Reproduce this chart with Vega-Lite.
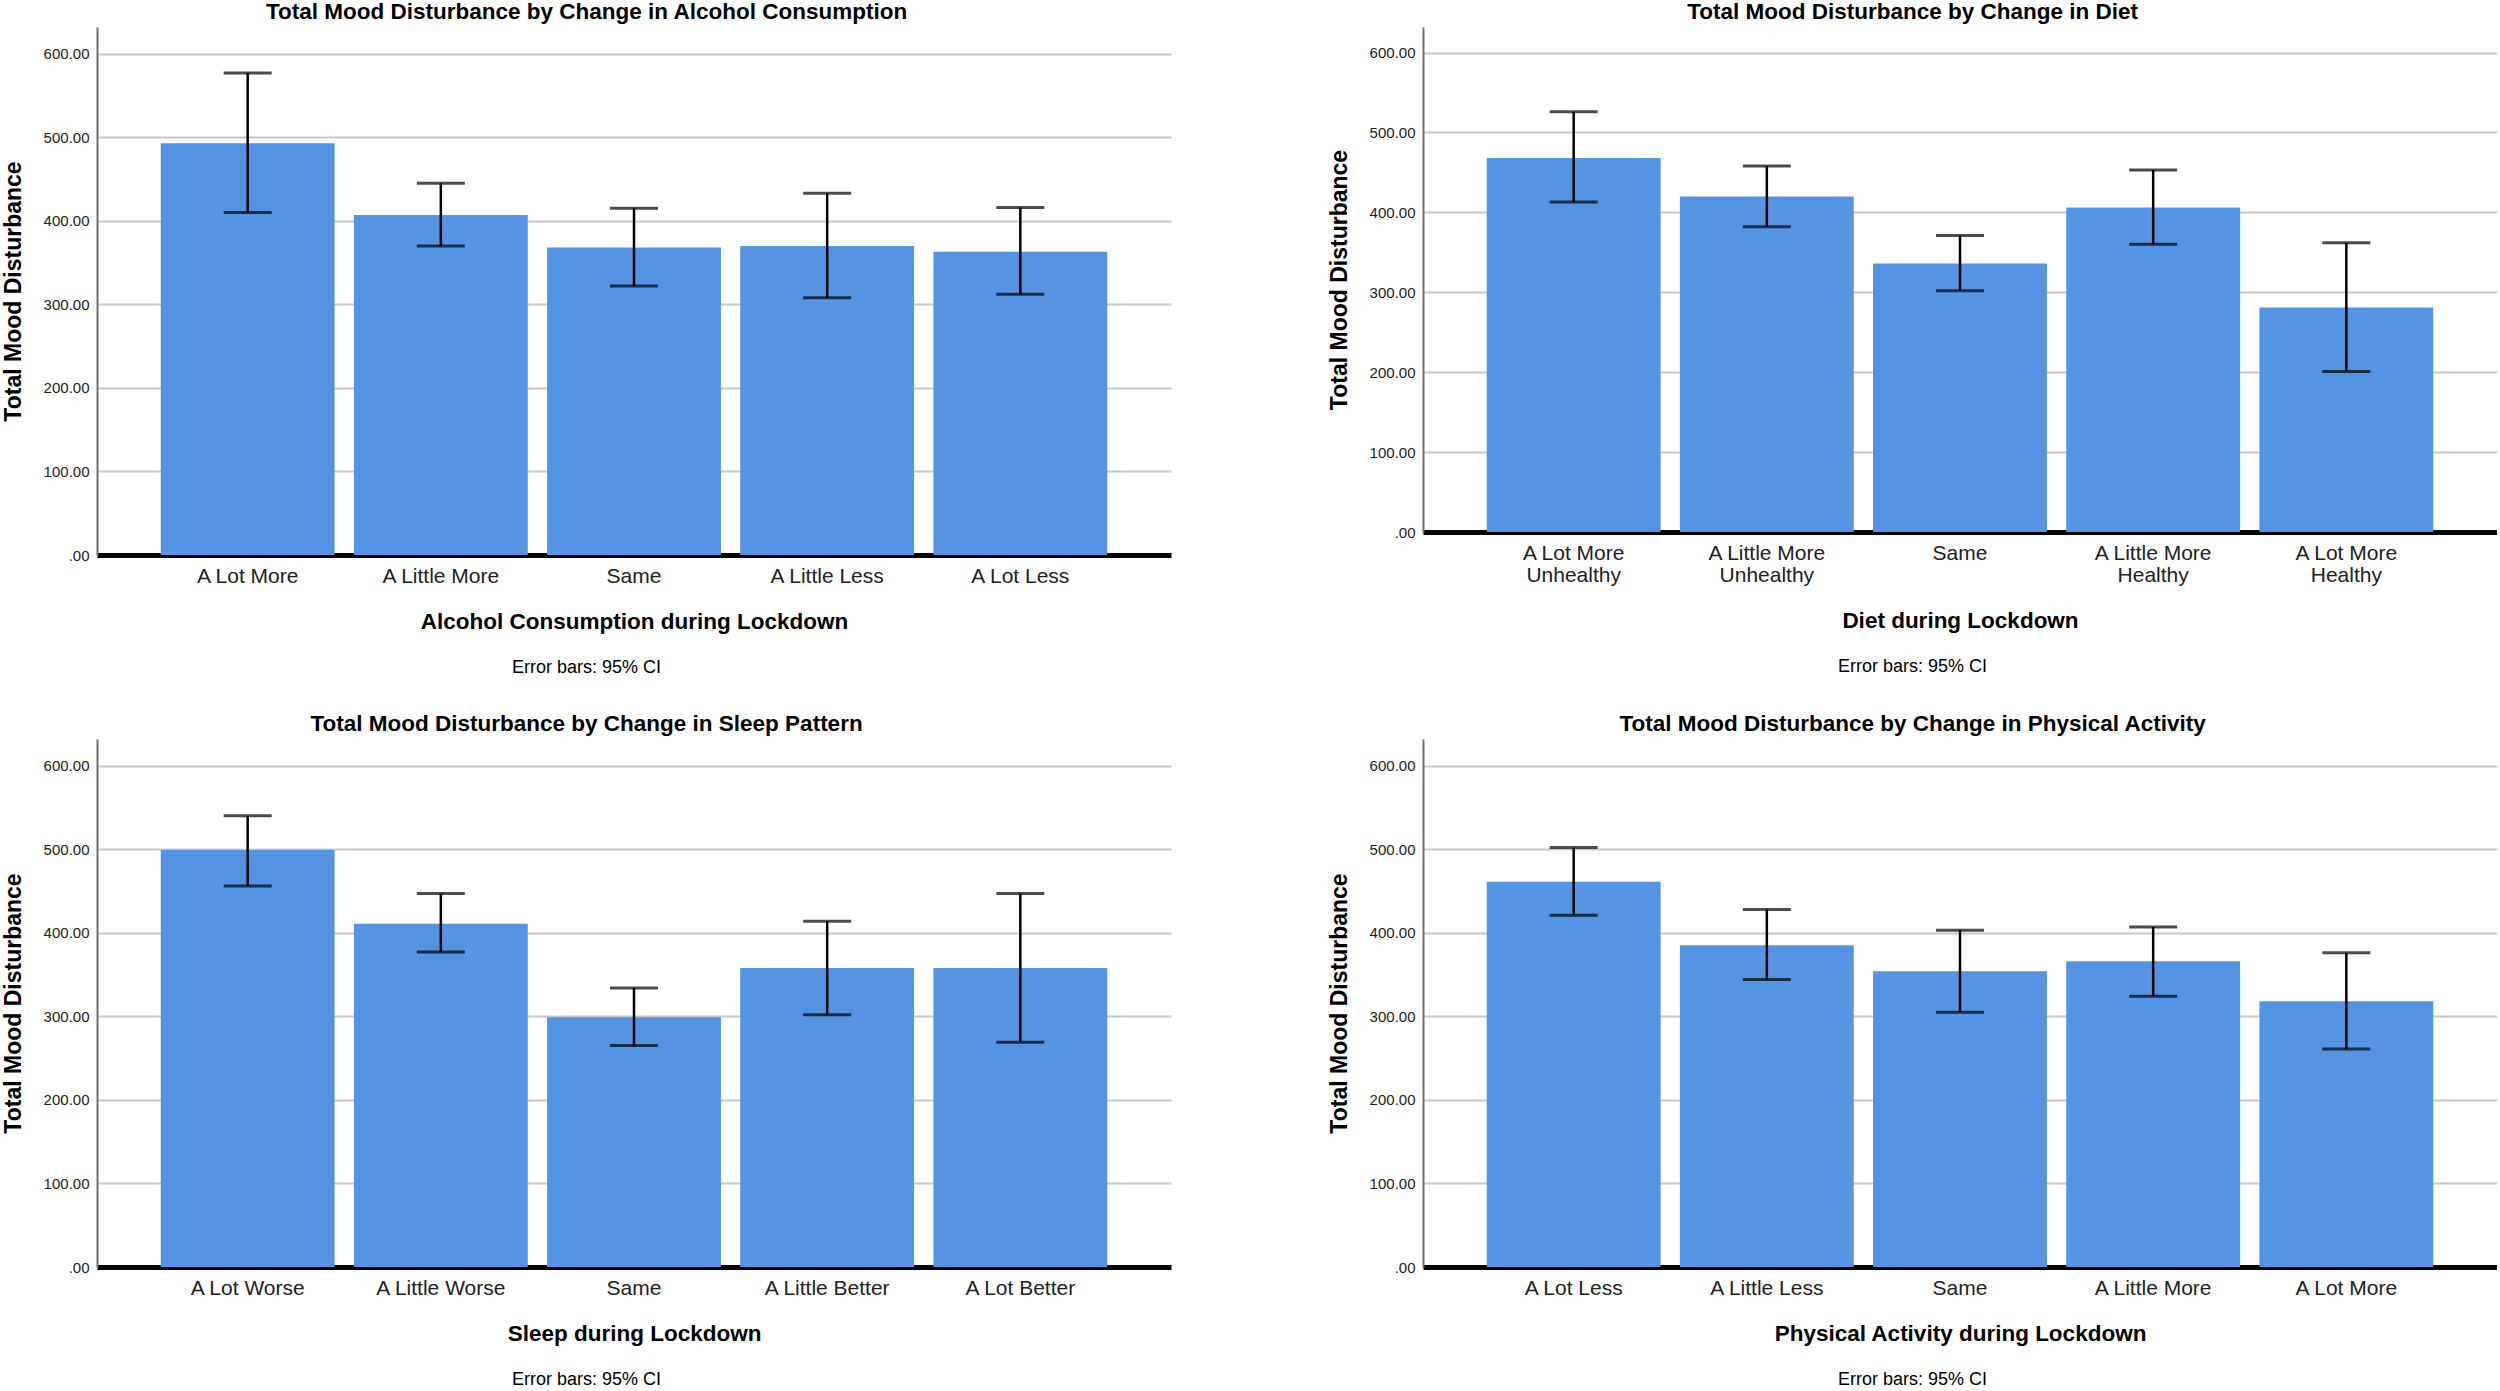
{
  "$schema": "https://vega.github.io/schema/vega-lite/v6.json",
  "padding": {"left": 2, "top": 0, "right": 0, "bottom": 0},
  "config": {
    "font": "Liberation Sans",
    "view": {"stroke": null},
    "axisX": {
      "grid": false, "ticks": false, "domainColor": "#000000", "domainWidth": 5,
      "labelAngle": 0, "labelFontSize": 21, "labelColor": "#222222", "labelPadding": 10,
      "labelLineHeight": 22,
      "titleFontSize": 22.5, "titleFontWeight": "bold", "titleColor": "#000000", "titlePadding": 24
    },
    "axisY": {
      "grid": true, "gridColor": "#c8c8c8", "gridWidth": 2, "ticks": false,
      "domainColor": "#707070", "domainWidth": 2,
      "labelFontSize": 15, "labelColor": "#222222", "labelPadding": 8,
      "titleFontSize": 23, "titleFontWeight": "bold", "titleColor": "#000000", "titlePadding": 18
    },
    "title": {"fontSize": 22.5, "fontWeight": "bold", "color": "#000000", "offset": 4, "anchor": "middle", "frame": "bounds"}
  },
  "columns": 2,
  "spacing": {"row": 35, "column": 157},
  "concat": [
    {
      "title": {"text": "Error bars: 95% CI", "orient": "bottom", "fontSize": 18, "fontWeight": "normal", "offset": 26, "anchor": "middle", "frame": "bounds"},
      "vconcat": [{
        "title": "Total Mood Disturbance by Change in Alcohol Consumption",
        "width": 1074, "height": 528,
        "data": {"values": [
          {"cat": "A Lot More", "mean": 493, "lo": 410, "hi": 577},
          {"cat": "A Little More", "mean": 407, "lo": 370, "hi": 445},
          {"cat": "Same", "mean": 368, "lo": 322, "hi": 415},
          {"cat": "A Little Less", "mean": 370, "lo": 308, "hi": 433},
          {"cat": "A Lot Less", "mean": 363, "lo": 312, "hi": 416}
        ]},
        "encoding": {
          "x": {"field": "cat", "type": "nominal", "sort": null, "title": "Alcohol Consumption during Lockdown",
                "scale": {"paddingInner": 0.1, "paddingOuter": 0.33}}
        },
        "layer": [
          {"mark": {"type": "bar", "color": "#5594e3"},
           "encoding": {"y": {"field": "mean", "type": "quantitative", "title": "Total Mood Disturbance",
                              "scale": {"domain": [0, 632], "nice": false},
                              "axis": {"values": [0, 100, 200, 300, 400, 500, 600], "labelExpr": "datum.value == 0 ? '.00' : format(datum.value, '.2f')"}}}},
          {"mark": {"type": "rule", "color": "#000000", "strokeWidth": 2.5},
           "encoding": {"y": {"field": "lo", "type": "quantitative"}, "y2": {"field": "hi"}}},
          {"mark": {"type": "tick", "color": "#000000", "size": 48, "thickness": 3},
           "encoding": {"y": {"field": "lo", "type": "quantitative"}}},
          {"mark": {"type": "tick", "color": "#000000", "size": 48, "thickness": 3},
           "encoding": {"y": {"field": "hi", "type": "quantitative"}}}
        ]
      }]
    },
    {
      "title": {"text": "Error bars: 95% CI", "orient": "bottom", "fontSize": 18, "fontWeight": "normal", "offset": 26, "anchor": "middle", "frame": "bounds"},
      "vconcat": [{
        "title": "Total Mood Disturbance by Change in Diet",
        "width": 1074, "height": 505,
        "data": {"values": [
          {"cat": "A Lot More Unhealthy", "mean": 468, "lo": 413, "hi": 526},
          {"cat": "A Little More Unhealthy", "mean": 420, "lo": 382, "hi": 458},
          {"cat": "Same", "mean": 336, "lo": 302, "hi": 371},
          {"cat": "A Little More Healthy", "mean": 406, "lo": 360, "hi": 453},
          {"cat": "A Lot More Healthy", "mean": 281, "lo": 201, "hi": 362}
        ]},
        "encoding": {
          "x": {"field": "cat", "type": "nominal", "sort": null, "title": "Diet during Lockdown",
                "scale": {"paddingInner": 0.1, "paddingOuter": 0.33},
                "axis": {"labelExpr": "indexof(datum.value, 'More ') >= 0 ? [slice(datum.value, 0, indexof(datum.value, 'More ') + 4), slice(datum.value, indexof(datum.value, 'More ') + 5)] : datum.value"}}
        },
        "layer": [
          {"mark": {"type": "bar", "color": "#5594e3"},
           "encoding": {"y": {"field": "mean", "type": "quantitative", "title": "Total Mood Disturbance",
                              "scale": {"domain": [0, 632], "nice": false},
                              "axis": {"values": [0, 100, 200, 300, 400, 500, 600], "labelExpr": "datum.value == 0 ? '.00' : format(datum.value, '.2f')"}}}},
          {"mark": {"type": "rule", "color": "#000000", "strokeWidth": 2.5},
           "encoding": {"y": {"field": "lo", "type": "quantitative"}, "y2": {"field": "hi"}}},
          {"mark": {"type": "tick", "color": "#000000", "size": 48, "thickness": 3},
           "encoding": {"y": {"field": "lo", "type": "quantitative"}}},
          {"mark": {"type": "tick", "color": "#000000", "size": 48, "thickness": 3},
           "encoding": {"y": {"field": "hi", "type": "quantitative"}}}
        ]
      }]
    },
    {
      "title": {"text": "Error bars: 95% CI", "orient": "bottom", "fontSize": 18, "fontWeight": "normal", "offset": 26, "anchor": "middle", "frame": "bounds"},
      "vconcat": [{
        "title": "Total Mood Disturbance by Change in Sleep Pattern",
        "width": 1074, "height": 528,
        "data": {"values": [
          {"cat": "A Lot Worse", "mean": 499, "lo": 456, "hi": 540},
          {"cat": "A Little Worse", "mean": 411, "lo": 377, "hi": 447},
          {"cat": "Same", "mean": 299, "lo": 265, "hi": 334},
          {"cat": "A Little Better", "mean": 358, "lo": 302, "hi": 414},
          {"cat": "A Lot Better", "mean": 358, "lo": 269, "hi": 447}
        ]},
        "encoding": {
          "x": {"field": "cat", "type": "nominal", "sort": null, "title": "Sleep during Lockdown",
                "scale": {"paddingInner": 0.1, "paddingOuter": 0.33}}
        },
        "layer": [
          {"mark": {"type": "bar", "color": "#5594e3"},
           "encoding": {"y": {"field": "mean", "type": "quantitative", "title": "Total Mood Disturbance",
                              "scale": {"domain": [0, 632], "nice": false},
                              "axis": {"values": [0, 100, 200, 300, 400, 500, 600], "labelExpr": "datum.value == 0 ? '.00' : format(datum.value, '.2f')"}}}},
          {"mark": {"type": "rule", "color": "#000000", "strokeWidth": 2.5},
           "encoding": {"y": {"field": "lo", "type": "quantitative"}, "y2": {"field": "hi"}}},
          {"mark": {"type": "tick", "color": "#000000", "size": 48, "thickness": 3},
           "encoding": {"y": {"field": "lo", "type": "quantitative"}}},
          {"mark": {"type": "tick", "color": "#000000", "size": 48, "thickness": 3},
           "encoding": {"y": {"field": "hi", "type": "quantitative"}}}
        ]
      }]
    },
    {
      "title": {"text": "Error bars: 95% CI", "orient": "bottom", "fontSize": 18, "fontWeight": "normal", "offset": 26, "anchor": "middle", "frame": "bounds"},
      "vconcat": [{
        "title": "Total Mood Disturbance by Change in Physical Activity",
        "width": 1074, "height": 528,
        "data": {"values": [
          {"cat": "A Lot Less", "mean": 461, "lo": 421, "hi": 502},
          {"cat": "A Little Less", "mean": 385, "lo": 344, "hi": 428},
          {"cat": "Same", "mean": 354, "lo": 305, "hi": 403},
          {"cat": "A Little More", "mean": 366, "lo": 324, "hi": 407},
          {"cat": "A Lot More", "mean": 318, "lo": 261, "hi": 376}
        ]},
        "encoding": {
          "x": {"field": "cat", "type": "nominal", "sort": null, "title": "Physical Activity during Lockdown",
                "scale": {"paddingInner": 0.1, "paddingOuter": 0.33}}
        },
        "layer": [
          {"mark": {"type": "bar", "color": "#5594e3"},
           "encoding": {"y": {"field": "mean", "type": "quantitative", "title": "Total Mood Disturbance",
                              "scale": {"domain": [0, 632], "nice": false},
                              "axis": {"values": [0, 100, 200, 300, 400, 500, 600], "labelExpr": "datum.value == 0 ? '.00' : format(datum.value, '.2f')"}}}},
          {"mark": {"type": "rule", "color": "#000000", "strokeWidth": 2.5},
           "encoding": {"y": {"field": "lo", "type": "quantitative"}, "y2": {"field": "hi"}}},
          {"mark": {"type": "tick", "color": "#000000", "size": 48, "thickness": 3},
           "encoding": {"y": {"field": "lo", "type": "quantitative"}}},
          {"mark": {"type": "tick", "color": "#000000", "size": 48, "thickness": 3},
           "encoding": {"y": {"field": "hi", "type": "quantitative"}}}
        ]
      }]
    }
  ]
}
